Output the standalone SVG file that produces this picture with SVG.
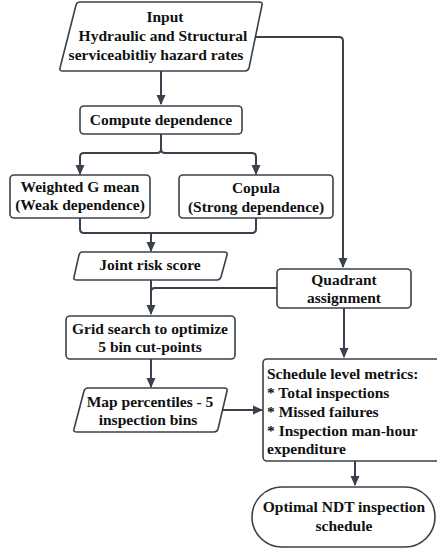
<svg xmlns="http://www.w3.org/2000/svg" width="437" height="549" viewBox="0 0 437 549">
<style>
.n{fill:#fff;stroke:#3a414c;stroke-width:1.6;stroke-linejoin:round}
.t{font-family:"Liberation Serif","Times New Roman",serif;font-weight:bold;font-size:15.5px;fill:#111;text-anchor:middle}
.l{text-anchor:start}
.c{fill:none;stroke:#3a414c;stroke-width:2;stroke-linejoin:round}
</style>
<defs>
<marker id="a" viewBox="0 0 10 10" refX="9" refY="5" markerWidth="10" markerHeight="10" markerUnits="userSpaceOnUse" orient="auto">
<path d="M0,0.5 L10,5 L0,9.5 z" fill="#3a414c"/>
</marker>
</defs>
<g id="connectors">
<path class="c" d="M161,71 V104" marker-end="url(#a)"/>
<path class="c" d="M255,37 H339 Q343,37 343,41 V267" marker-end="url(#a)"/>
<path class="c" d="M161,134 V149 Q161,153 157,153 H84 Q80,153 80,157 V174" marker-end="url(#a)"/>
<path class="c" d="M161,149 Q161,153 165,153 H252 Q256,153 256,157 V174" marker-end="url(#a)"/>
<path class="c" d="M80,218 V229 Q80,233 84,233 H252 Q256,233 256,229 V218"/>
<path class="c" d="M151,233 V251" marker-end="url(#a)"/>
<path class="c" d="M151,280 V314" marker-end="url(#a)"/>
<path class="c" d="M277,288 H155 Q151,288 151,292"/>
<path class="c" d="M151,359 V387" marker-end="url(#a)"/>
<path class="c" d="M344,308 V357" marker-end="url(#a)"/>
<path class="c" d="M222,410 H262" marker-end="url(#a)"/>
<path class="c" d="M355,461 V485" marker-end="url(#a)"/>
</g>
<g id="input">
<path class="n" d="M80,2 H259 Q263,2 262,5 L249,68 Q248,71 245,71 H63 Q59,71 60,68 L76,5 Q77,2 80,2 z"/>
<text class="t" x="165" y="22">Input</text>
<text class="t" x="163" y="41">Hydraulic and Structural</text>
<text class="t" x="156" y="60">serviceabitliy hazard rates</text>
</g>
<g id="compute">
<rect class="n" x="80" y="106" width="162" height="28" rx="4"/>
<text class="t" x="161" y="124.5">Compute dependence</text>
</g>
<g id="weighted">
<rect class="n" x="10" y="175" width="140" height="43" rx="4"/>
<text class="t" x="80" y="192">Weighted G mean</text>
<text class="t" x="80" y="210">(Weak dependence)</text>
</g>
<g id="copula">
<rect class="n" x="179" y="175" width="154" height="43" rx="4"/>
<text class="t" x="256" y="193">Copula</text>
<text class="t" x="256" y="212">(Strong dependence)</text>
</g>
<g id="joint">
<path class="n" d="M82,252 H224 Q228,252 227,255 L221,277 Q220,280 217,280 H77 Q73,280 74,277 L79,255 Q80,252 82,252 z"/>
<text class="t" x="150" y="270">Joint risk score</text>
</g>
<g id="quadrant">
<rect class="n" x="277" y="269" width="134" height="39" rx="4"/>
<text class="t" x="344" y="285">Quadrant</text>
<text class="t" x="344" y="303">assignment</text>
</g>
<g id="grid">
<rect class="n" x="66" y="316" width="169" height="43" rx="4"/>
<text class="t" x="150" y="334">Grid search to optimize</text>
<text class="t" x="150" y="352">5 bin cut-points</text>
</g>
<g id="map">
<path class="n" d="M88,388 H224 Q228,388 227,391 L218,429 Q217,432 214,432 H77 Q73,432 74,429 L84,391 Q85,388 88,388 z"/>
<text class="t" x="150" y="407">Map percentiles - 5</text>
<text class="t" x="148" y="425">inspection bins</text>
</g>
<g id="schedule">
<rect class="n" x="263" y="359" width="180" height="102" rx="4"/>
<text class="t l" x="267" y="379">Schedule level metrics:</text>
<text class="t l" x="267" y="398">* Total inspections</text>
<text class="t l" x="267" y="417">* Missed failures</text>
<text class="t l" x="267" y="436">* Inspection man-hour</text>
<text class="t l" x="267" y="454">expenditure</text>
</g>
<g id="optimal">
<rect class="n" x="252" y="487" width="183" height="60" rx="30"/>
<text class="t" x="344" y="512">Optimal NDT inspection</text>
<text class="t" x="344" y="531">schedule</text>
</g>
</svg>
